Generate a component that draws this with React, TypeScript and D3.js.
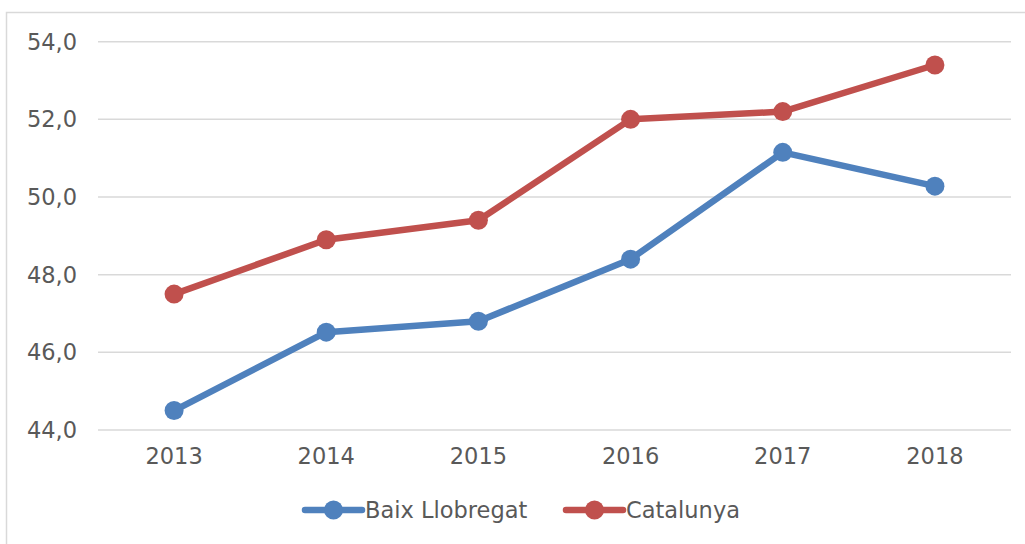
import React, { useEffect, useRef } from "react";
import * as d3 from "d3";

// Values
const years = ["2013", "2014", "2015", "2016", "2017", "2018"];
const baixValues = [44.5, 46.52, 46.8, 48.4, 51.15, 50.28];
const catalunyaValues = [47.5, 48.9, 49.4, 52.0, 52.2, 53.4];
const yTicks = [44, 46, 48, 50, 52, 54];

const series = [
  { name: "Baix Llobregat", values: baixValues, color: "#4F81BD" },
  { name: "Catalunya", values: catalunyaValues, color: "#C0504D" },
];

const App = () => {
  const ref = useRef<SVGSVGElement>(null);

  useEffect(() => {
    const width = 1025;
    const height = 544;
    const svg = d3.select(ref.current).attr("width", width).attr("height", height);
    svg.selectAll("*").remove();

    const font = "'DejaVu Sans', sans-serif";
    const fontSize = 22.5;
    const textColor = "#595959";

    // Outer chart border
    svg.append("rect")
      .attr("x", 6.5)
      .attr("y", 12.5)
      .attr("width", width + 20)
      .attr("height", height)
      .attr("fill", "white")
      .attr("stroke", "#D9D9D9")
      .attr("stroke-width", 1.5);

    const left = 98;
    const right = 1011;
    const top = 41.7;
    const bottom = 430;

    const x = d3.scaleBand().domain(years).range([left, right]);
    const y = d3.scaleLinear().domain([44, 54]).range([bottom, top]);

    // Gridlines
    svg.append("g")
      .selectAll("line")
      .data(yTicks)
      .join("line")
      .attr("x1", left)
      .attr("x2", right)
      .attr("y1", d => y(d))
      .attr("y2", d => y(d))
      .attr("stroke", "#D9D9D9")
      .attr("stroke-width", 1.5);

    // Y labels
    svg.append("g")
      .selectAll("text")
      .data(yTicks)
      .join("text")
      .attr("x", 77)
      .attr("y", d => y(d))
      .attr("dy", "0.35em")
      .attr("text-anchor", "end")
      .attr("font-family", font)
      .attr("font-size", fontSize)
      .attr("fill", textColor)
      .text(d => d.toFixed(1).replace(".", ","));

    // X labels
    svg.append("g")
      .selectAll("text")
      .data(years)
      .join("text")
      .attr("x", d => x(d)! + x.bandwidth() / 2)
      .attr("y", 456)
      .attr("dy", "0.35em")
      .attr("text-anchor", "middle")
      .attr("font-family", font)
      .attr("font-size", fontSize)
      .attr("fill", textColor)
      .text(d => d);

    const line = d3.line<number>()
      .x((_, i) => x(years[i])! + x.bandwidth() / 2)
      .y(d => y(d));

    series.forEach(s => {
      svg.append("path")
        .datum(s.values)
        .attr("fill", "none")
        .attr("stroke", s.color)
        .attr("stroke-width", 6.5)
        .attr("stroke-linejoin", "round")
        .attr("d", line);

      svg.append("g")
        .selectAll("circle")
        .data(s.values)
        .join("circle")
        .attr("cx", (_, i) => x(years[i])! + x.bandwidth() / 2)
        .attr("cy", d => y(d))
        .attr("r", 9.5)
        .attr("fill", s.color);
    });

    // Legend
    const legendX = [305, 566];
    const legendY = 510;
    series.forEach((s, i) => {
      const lx = legendX[i];
      const g = svg.append("g");
      g.append("line")
        .attr("x1", lx)
        .attr("x2", lx + 57)
        .attr("y1", legendY)
        .attr("y2", legendY)
        .attr("stroke", s.color)
        .attr("stroke-width", 6.5)
        .attr("stroke-linecap", "round");
      g.append("circle")
        .attr("cx", lx + 28.5)
        .attr("cy", legendY)
        .attr("r", 9.5)
        .attr("fill", s.color);
      g.append("text")
        .attr("x", lx + 60)
        .attr("y", legendY)
        .attr("dy", "0.35em")
        .attr("font-family", font)
        .attr("font-size", fontSize)
        .attr("fill", textColor)
        .text(s.name);
    });
  }, []);

  return (
    <svg ref={ref} style={{ position: "absolute", left: 0, top: 0, display: "block" }}></svg>
  );
};

export default App;
